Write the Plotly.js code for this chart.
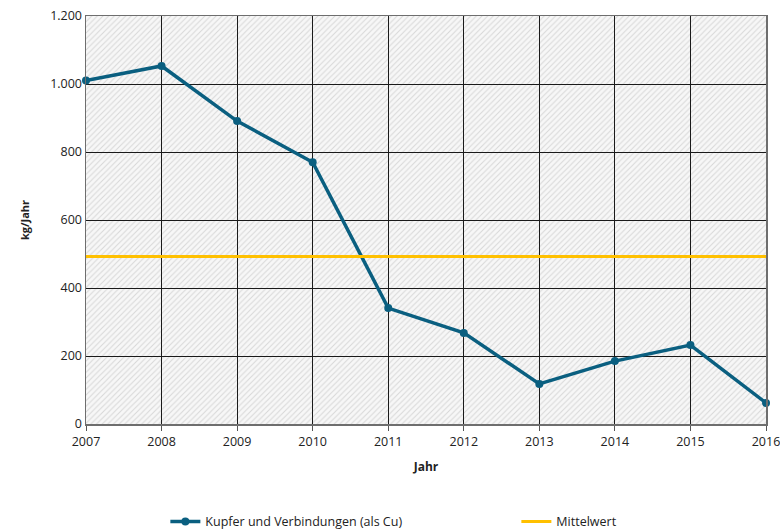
<!DOCTYPE html>
<html>
<head>
<meta charset="utf-8">
<script src="https://cdn.plot.ly/plotly-3.0.1.min.js"></script>
<style>html,body{margin:0;padding:0;background:#fff;}#chart{width:780px;height:532px;}</style>
</head>
<body>
<div id="chart"></div>
<script>
const years = [2007, 2008, 2009, 2010, 2011, 2012, 2013, 2014, 2015, 2016];
const kupfer = [1010, 1053, 891, 770, 341, 268, 118, 185, 232, 62];
const mittelwert = [493, 493, 493, 493, 493, 493, 493, 493, 493, 493];
const yTicks = [0, 200, 400, 600, 800, 1000, 1200];
const seriesNames = ['Kupfer und Verbindungen (als Cu)', 'Mittelwert'];

const xMin = years[0], xMax = years[years.length - 1];
const yMin = yTicks[0], yMax = yTicks[yTicks.length - 1];

const font = 'Open Sans, Liberation Sans, sans-serif';

const traces = [
  {
    // hatched plot background
    x: [xMin, xMax, xMax, xMin, xMin],
    y: [yMin, yMin, yMax, yMax, yMin],
    xaxis: 'x', yaxis: 'y',
    mode: 'lines', fill: 'toself',
    line: {width: 0, color: 'rgba(0,0,0,0)'},
    fillcolor: '#f3f3f3',
    fillpattern: {shape: '/', fgcolor: '#d8d8d8', bgcolor: '#f7f7f7', size: 4, solidity: 0.25},
    hoverinfo: 'skip', showlegend: false
  },
  {
    x: years, y: kupfer, name: seriesNames[0],
    xaxis: 'x2', yaxis: 'y2', legend: 'legend',
    mode: 'lines+markers',
    line: {color: '#0a5f80', width: 3.5},
    marker: {color: '#0a5f80', size: 8},
    cliponaxis: false
  },
  {
    x: years, y: mittelwert, name: seriesNames[1],
    xaxis: 'x2', yaxis: 'y2', legend: 'legend2',
    mode: 'lines',
    line: {color: '#ffc000', width: 3},
    cliponaxis: false
  }
];

const legendBase = {
  orientation: 'h', xref: 'container', yref: 'container',
  xanchor: 'left', y: 0.019, yanchor: 'middle',
  font: {family: font, size: 12.5, color: '#222'},
  bgcolor: 'rgba(0,0,0,0)'
};

const layout = {
  width: 780, height: 532,
  margin: {l: 86, r: 14, t: 16, b: 108, autoexpand: false},
  paper_bgcolor: '#ffffff',
  plot_bgcolor: 'rgba(0,0,0,0)',
  separators: ',.',
  font: {family: font, size: 12, color: '#222'},
  showlegend: true,
  legend: Object.assign({}, legendBase, {x: 0.212}),
  legend2: Object.assign({}, legendBase, {x: 0.662}),
  xaxis: {domain: [0, 1], range: [xMin, xMax], visible: false, fixedrange: true},
  yaxis: {domain: [0, 1], range: [yMin, yMax], visible: false, fixedrange: true},
  xaxis2: {
    domain: [0, 1], anchor: 'y2', range: [xMin, xMax],
    tickmode: 'array', tickvals: years, ticktext: years.map(String),
    ticklabeloverflow: 'allow',
    showgrid: true, gridcolor: '#1a1a1a', gridwidth: 1,
    showline: true, linecolor: '#6e6e6e', linewidth: 1.5, mirror: true,
    ticks: 'outside', ticklen: 5, tickcolor: '#555', tickwidth: 1,
    zeroline: false,
    tickfont: {family: font, size: 12.5, color: '#222'},
    title: {text: '<b>Jahr</b>', font: {family: font, size: 12, color: '#222'}, standoff: 14}
  },
  yaxis2: {
    domain: [0, 1], anchor: 'x2', range: [yMin, yMax],
    tickmode: 'array', tickvals: yTicks, tickformat: ',d',
    showgrid: true, gridcolor: '#1a1a1a', gridwidth: 1,
    showline: true, linecolor: '#6e6e6e', linewidth: 1.5, mirror: true,
    ticks: '', zeroline: false,
    tickfont: {family: font, size: 12.5, color: '#222'},
    title: {text: '<b>kg/Jahr</b>', font: {family: font, size: 11, color: '#222'}, standoff: 18}
  }
};

Plotly.newPlot('chart', traces, layout, {displayModeBar: false, staticPlot: true});
</script>
</body>
</html>
